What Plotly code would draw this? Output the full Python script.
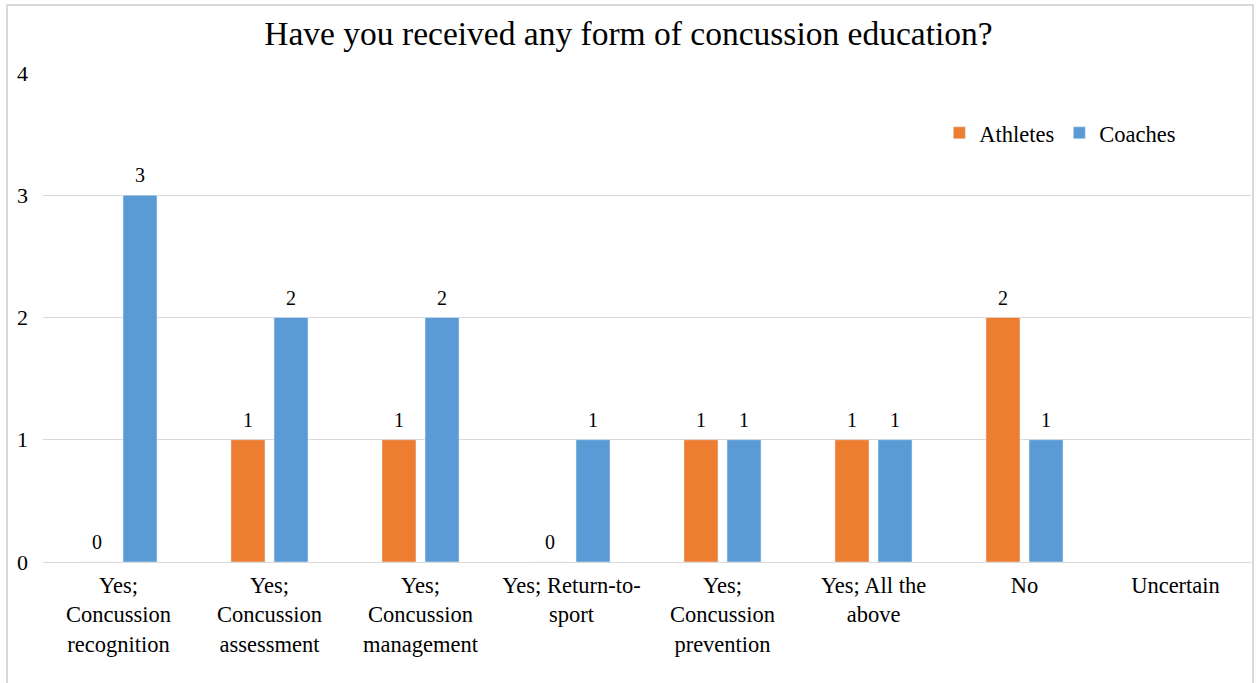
import plotly.graph_objects as go

categories = ["Yes;<br>Concussion<br>recognition", "Yes;<br>Concussion<br>assessment",
              "Yes;<br>Concussion<br>management", "Yes; Return-to-<br>sport",
              "Yes;<br>Concussion<br>prevention", "Yes; All the<br>above", "No", "Uncertain"]
athletes = [0, 1, 1, 0, 1, 1, 2, None]
coaches = [3, 2, 2, 1, 1, 1, 1, None]
y_ticks = [0, 1, 2, 3, 4]

FONT = "Liberation Serif"
ORANGE = "#ED7D31"
BLUE = "#5B9BD5"
BARGAP = 0.43
BARGROUPGAP = 0.21

fig = go.Figure()
fig.add_trace(go.Bar(name="Athletes", x=categories, y=athletes, marker_color=ORANGE))
fig.add_trace(go.Bar(name="Coaches", x=categories, y=coaches, marker_color=BLUE))

# data labels placed above each bar (offset computed from the grouping geometry)
slot = (1 - BARGAP) / 2
for series, sign in ((athletes, -1), (coaches, 1)):
    for i, v in enumerate(series):
        if v is None:
            continue
        fig.add_annotation(x=i + sign * slot / 2, y=v, xref="x", yref="y",
                           text=str(v), showarrow=False, yanchor="middle", yshift=20,
                           font=dict(family=FONT, size=20, color="#000"))

fig.update_layout(
    width=1257, height=683,
    margin=dict(l=43, r=6, t=73, b=121),
    paper_bgcolor="white", plot_bgcolor="white",
    barmode="group", bargap=BARGAP, bargroupgap=BARGROUPGAP,
    title=dict(text="Have you received any form of concussion education?",
               x=0.5, xanchor="center", y=0.952, yanchor="middle",
               font=dict(family=FONT, size=33.5, color="#000")),
    font=dict(family=FONT, size=22, color="#000"),
    legend=dict(orientation="h", x=0.742, y=0.877, xanchor="left", yanchor="middle",
                font=dict(family=FONT, size=22.5, color="#000"), bgcolor="rgba(0,0,0,0)"),
    xaxis=dict(showgrid=False, showline=True, linecolor="#D9D9D9", linewidth=1,
               ticks="", ticklabelstandoff=3,
               tickfont=dict(family=FONT, size=22.5, color="#000")),
    yaxis=dict(range=[0, 4], tickvals=y_ticks, showgrid=True, gridcolor="#D9D9D9",
               zeroline=False, showline=False, ticks="", ticklabelstandoff=14,
               tickfont=dict(family=FONT, size=22, color="#000")),
)
fig.add_shape(type="rect", xref="paper", yref="paper",
              x0=-0.0298, x1=1.0017, y0=-0.30, y1=1.139,
              line=dict(color="#D9D9D9", width=2), fillcolor="rgba(0,0,0,0)", layer="below")

fig.write_html("out.html")
